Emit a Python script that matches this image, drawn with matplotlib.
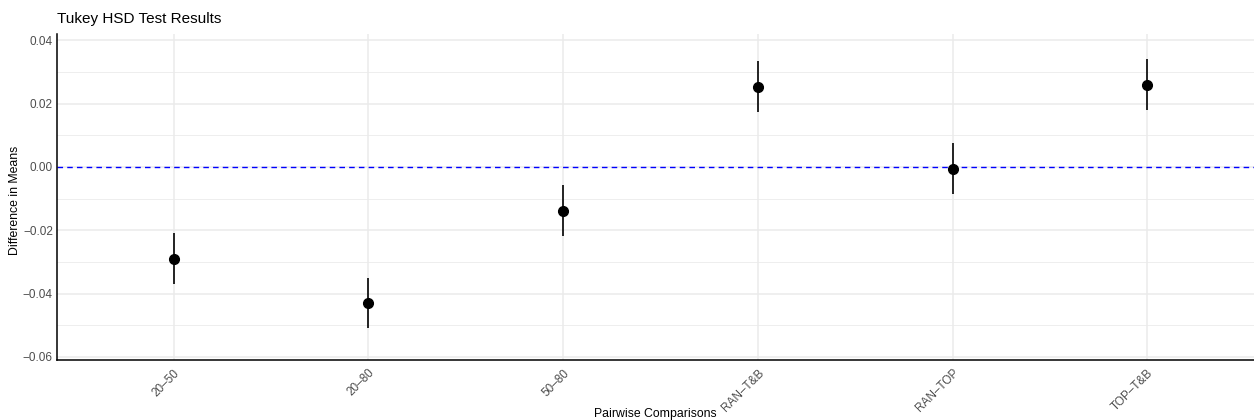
import numpy as np
import matplotlib.pyplot as plt
from matplotlib.ticker import MultipleLocator

comparisons = ["20\u201350", "20\u201380", "50\u201380", "RAN\u2013T&B", "RAN\u2013TOP", "TOP\u2013T&B"]
diff = [-0.0291, -0.0430, -0.0139, 0.0253, -0.0006, 0.0259]
lwr = [-0.0371, -0.0510, -0.0218, 0.0174, -0.0085, 0.0180]
upr = [-0.0210, -0.0350, -0.0057, 0.0334, 0.0075, 0.0340]

plt.rcParams['font.family'] = ['Liberation Sans', 'DejaVu Sans']

fig = plt.figure(figsize=(12.54, 4.2), dpi=100)
# right edge of the panel runs slightly past the canvas, as in the reference
ax = fig.add_axes([57 / 1254, 1 - 360 / 420, 1207 / 1254, 326 / 420])

x = np.arange(len(comparisons))
ax.vlines(x, lwr, upr, color="black", linewidth=1.2, zorder=3)
ax.plot(x, diff, "o", color="black", markersize=7, zorder=4)
ax.axhline(0, color="blue", linestyle=(0, (4, 3)), linewidth=1, zorder=2)

ax.set_xlim(-0.6, len(comparisons) - 0.4)
ax.set_ylim(-0.061, 0.042)
ax.yaxis.set_major_locator(MultipleLocator(0.02))
ax.yaxis.set_minor_locator(MultipleLocator(0.01))
ax.set_xticks(x)
ax.set_xticklabels(comparisons, rotation=45, ha="right", va="top",
                   rotation_mode="anchor", color="#4d4d4d", fontsize=8.5)
ax.set_yticklabels([f"{v:.2f}".replace("-", "\u2212") for v in ax.get_yticks()],
                   color="#4d4d4d", fontsize=8.5)

ax.grid(which="major", color="#ebebeb", linewidth=1.1, zorder=0)
ax.grid(which="minor", axis="y", color="#ebebeb", linewidth=0.6, zorder=0)
ax.set_axisbelow(True)
ax.tick_params(which="both", length=0, pad=3)
ax.tick_params(axis="x", pad=5)
for side in ["top", "right"]:
    ax.spines[side].set_visible(False)
for side in ["left", "bottom"]:
    ax.spines[side].set_color("black")
    ax.spines[side].set_linewidth(1.1)

ax.set_title("Tukey HSD Test Results", loc="left", fontsize=11, pad=8)
ax.set_ylabel("Difference in Means", fontsize=8.8)
ax.yaxis.set_label_coords((21 - 57) / 1207, (360 - 200) / 326)
ax.set_xlabel("Pairwise Comparisons", fontsize=8.8)
ax.xaxis.set_label_coords((655 - 57) / 1207, -48 / 326)

fig.savefig("out.png", dpi=100)
